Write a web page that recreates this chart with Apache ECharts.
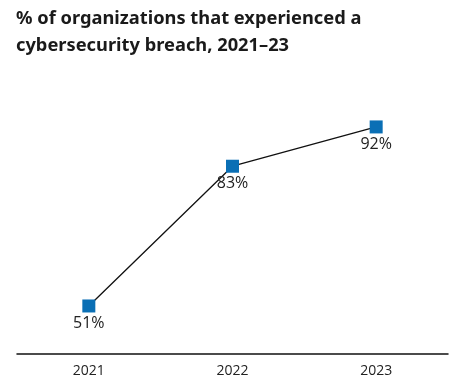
<!DOCTYPE html>
<html><head><meta charset="utf-8">
<script src="https://cdn.jsdelivr.net/npm/echarts@6/dist/echarts.min.js"></script>
<style>html,body{margin:0;padding:0;background:#fff}#c{width:462px;height:382px}</style>
</head><body><div id="c"></div>
<script>
const categories = ['2021', '2022', '2023'];
const values = [51, 83, 92];
const titleText = '% of organizations that experienced a\ncybersecurity breach, 2021–23';

const chart = echarts.init(document.getElementById('c'), null, {renderer: 'canvas'});
chart.setOption({
  animation: false,
  backgroundColor: '#fff',
  title: {
    text: titleText,
    left: 11, top: 0,
    textStyle: {fontFamily: 'Noto Sans', fontWeight: 'bold', fontSize: 18.3, lineHeight: 27, color: '#1a1a1a'}
  },
  grid: {left: 17, right: 14, top: 92, bottom: 28},
  xAxis: {
    type: 'category', data: categories, boundaryGap: true,
    axisLine: {lineStyle: {color: '#111', width: 1.5}},
    axisTick: {show: false},
    axisLabel: {fontFamily: 'Open Sans', fontSize: 14, color: '#222', margin: 10}
  },
  yAxis: {type: 'value', min: 40, max: 100, show: false, splitLine: {show: false}},
  series: [{
    type: 'line', data: values,
    symbol: 'rect', symbolSize: 13,
    itemStyle: {color: '#0a6fb5'},
    lineStyle: {color: '#111', width: 1.3},
    label: {show: true, position: 'bottom', distance: 3, formatter: '{c}%',
      fontFamily: 'Open Sans', fontSize: 16, color: '#222'}
  }]
});
</script></body></html>
